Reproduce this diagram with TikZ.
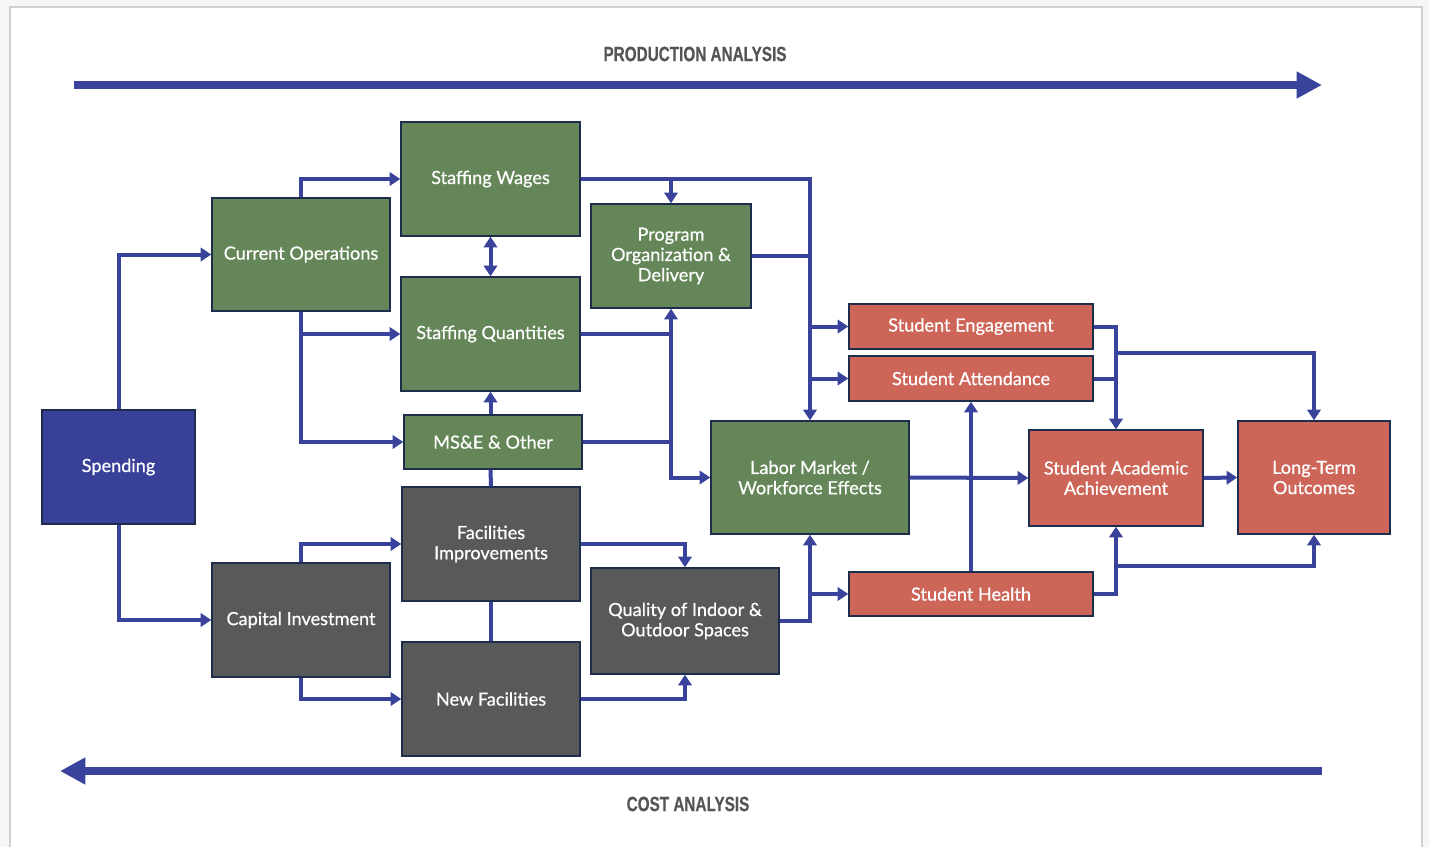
\documentclass[tikz,border=0pt]{standalone}
\usepackage{fontspec}
\setmainfont{Lato}[FakeBold=0.6]
\newfontfamily\condfont{Liberation Sans}[FakeStretch=0.74,FakeBold=0.4]
\usetikzlibrary{arrows.meta}
\definecolor{cgreen}{RGB}{100,134,88}
\definecolor{cred}{RGB}{205,102,89}
\definecolor{cgray}{RGB}{88,89,91}
\definecolor{cspend}{RGB}{56,64,151}
\definecolor{cconn}{RGB}{58,67,155}
\definecolor{cedge}{RGB}{30,45,75}
\definecolor{ctitle}{RGB}{85,85,85}
\definecolor{cbg}{RGB}{246,246,244}
\definecolor{cframe}{RGB}{208,208,206}
\tikzset{
  box/.style={draw=cedge, line width=1.1pt, inner sep=2pt, align=center,
    text=white, font=\fontsize{13.6pt}{15.2pt}\selectfont},
  gbox/.style={box, fill=cgreen},
  rbox/.style={box, fill=cred},
  dbox/.style={box, fill=cgray},
  sbox/.style={box, fill=cspend},
  conn/.style={draw=cconn, line width=3pt, -{Triangle[length=8pt,width=10pt]}},
  conn2/.style={draw=cconn, line width=3pt, {Triangle[length=8pt,width=10pt]}-{Triangle[length=8pt,width=10pt]}},
  plain/.style={draw=cconn, line width=3pt},
  bigarrow/.style={draw=cconn, line width=6pt, -{Triangle[length=19pt,width=19pt]}},
  title/.style={text=ctitle, font=\condfont\bfseries\fontsize{15.5pt}{17pt}\selectfont}
}
\begin{document}
\begin{tikzpicture}[x=0.75pt,y=-0.75pt]
\useasboundingbox (0,0) rectangle (1429,847);
\fill[cbg] (0,0) rectangle (1429,847);
\fill[white] (10,7) rectangle (1422,847);
\draw[cframe, line width=2pt] (10,847) -- (10,7) -- (1422,7) -- (1422,847);

% titles and big arrows
\node[title] (ptitle) at (695,54) {PRODUCTION ANALYSIS};
\node[title] (ctitle) at (688,804) {COST ANALYSIS};
\coordinate (pa1) at (74,85);
\coordinate (pa2) at (1322,85);
\coordinate (ca1) at (1322,771);
\coordinate (ca2) at (60,771);
\draw[bigarrow] (pa1) -- (pa2);
\draw[bigarrow] (ca1) -- (ca2);

% nodes
\node[sbox, minimum width=153*0.75pt, minimum height=114*0.75pt] (Spend) at (118.5,467) {Spending};
\node[gbox, minimum width=178*0.75pt, minimum height=113*0.75pt] (CurOps) at (301,254.5) {Current Operations};
\node[gbox, minimum width=179*0.75pt, minimum height=114*0.75pt] (SWages) at (490.5,179) {Staffing Wages};
\node[gbox, minimum width=179*0.75pt, minimum height=114*0.75pt] (SQuant) at (490.5,334) {Staffing Quantities};
\node[gbox, minimum width=178*0.75pt, minimum height=54*0.75pt] (MSE) at (493,442) {MS\&E \& Other};
\node[gbox, minimum width=160*0.75pt, minimum height=104*0.75pt] (ProgOrg) at (671,256) {Program\\Organization \&\\Delivery};
\node[gbox, minimum width=198*0.75pt, minimum height=113*0.75pt] (Labor) at (810,477.5) {Labor Market /\\Workforce Effects};
\node[rbox, minimum width=244*0.75pt, minimum height=45*0.75pt] (SEng) at (971,326.5) {Student Engagement};
\node[rbox, minimum width=244*0.75pt, minimum height=45*0.75pt] (SAtt) at (971,378.5) {Student Attendance};
\node[rbox, minimum width=244*0.75pt, minimum height=44*0.75pt] (SHealth) at (971,594) {Student Health};
\node[rbox, minimum width=174*0.75pt, minimum height=96*0.75pt] (SAA) at (1116,478) {Student Academic\\Achievement};
\node[rbox, minimum width=152*0.75pt, minimum height=113*0.75pt] (LTO) at (1314,477.5) {Long-Term\\Outcomes};
\node[dbox, minimum width=178*0.75pt, minimum height=114*0.75pt] (FacImp) at (491,544) {Facilities\\Improvements};
\node[dbox, minimum width=178*0.75pt, minimum height=114*0.75pt] (CapInv) at (301,620) {Capital Investment};
\node[dbox, minimum width=178*0.75pt, minimum height=114*0.75pt] (NewFac) at (491,699) {New Facilities};
\node[dbox, minimum width=188*0.75pt, minimum height=106*0.75pt] (Quality) at (685,621) {Quality of Indoor \&\\Outdoor Spaces};

% connectors
\draw[conn] (Spend.north) |- (CurOps.west);
\draw[conn] (Spend.south) |- (CapInv.west);
\draw[conn] (CurOps.north) |- (SWages.west);
\draw[conn] (CurOps.south) |- (SQuant.west);
\draw[conn] (CurOps.south) |- (MSE.west);
\draw[conn2] (SWages.south) -- (SQuant.north);
\draw[conn] (SQuant.south |- MSE.north) -- (SQuant.south);
\draw[plain] (SQuant.south |- MSE.south) -- (FacImp.north);
\draw[plain] (FacImp.south) -- (NewFac.north);
\draw[conn] (SWages.east) -| (Labor.north);
\draw[conn] (SWages.east -| ProgOrg.north) -- (ProgOrg.north);
\draw[plain] (ProgOrg.east) -- (ProgOrg.east -| Labor.north);
\draw[conn] (Labor.north |- SEng.west) -- (SEng.west);
\draw[conn] (Labor.north |- SAtt.west) -- (SAtt.west);
\draw[conn] (SQuant.east) -| (ProgOrg.south);
\draw[conn] (SQuant.east -| ProgOrg.south) |- (Labor.west);
\draw[plain] (MSE.east) -- (MSE.east -| ProgOrg.south);
\draw[conn] (Labor.east) -- (SAA.west);
\draw[conn] (SHealth.north) -- (SAtt.south);
\draw[conn] (Quality.east) -| (Labor.south);
\draw[conn] (Labor.south |- SHealth.west) -- (SHealth.west);
\draw[conn] (FacImp.east) -| (Quality.north);
\draw[conn] (NewFac.east) -| (Quality.south);
\draw[conn] (CapInv.north) |- (FacImp.west);
\draw[conn] (CapInv.south) |- (NewFac.west);
\draw[conn] (SEng.east) -| (SAA.north);
\draw[plain] (SAtt.east) -- (SAtt.east -| SAA.north);
\coordinate (j1) at (1116,353);
\coordinate (j2) at (1116,566);
\draw[conn] (j1) -| (LTO.north);
\draw[conn] (SHealth.east) -| (SAA.south);
\draw[conn] (j2) -| (LTO.south);
\draw[conn] (SAA.east) -- (LTO.west);
\end{tikzpicture}
\end{document}
